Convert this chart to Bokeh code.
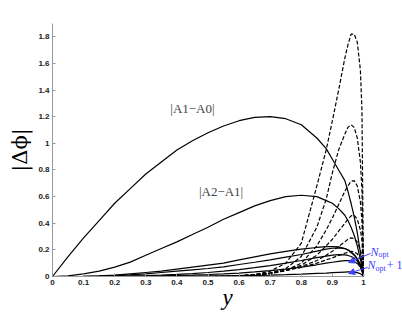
from bokeh.plotting import figure
from bokeh.models import Label, Arrow, NormalHead, Range1d, FixedTicker
from bokeh.embed import file_html
from bokeh.resources import INLINE

# common sample positions along y (x-axis)
X = [0, .05, .1, .15, .2, .25, .3, .35, .4, .45, .5, .55, .6, .65, .7, .75, .8,
     .85, .88, .9, .92, .94, .95, .96, .97, .98, .99, .995, 1.0]

# solid curves (terms before truncation)
A1_A0 = [0, .15, .29, .42, .55, .66, .77, .86, .95, 1.02, 1.08, 1.13, 1.17, 1.195, 1.2,
         1.185, 1.14, 1.04, .96, .88, .8, .72, .64, .55, .45, .33, .18, .1, 0]
A2_A1 = [0, .005, .02, .04, .07, .108, .16, .21, .26, .315, .37, .43, .48, .53, .57,
         .6, .61, .6, .57, .55, .51, .46, .42, .37, .31, .23, .13, .07, 0]
S3 = [0, 0, .002, .005, .01, .02, .03, .04, .055, .07, .085, .1, .125, .148, .17,
      .188, .205, .218, .224, .225, .222, .21, .198, .18, .16, .13, .085, .05, 0]
S4 = [0, 0, .001, .003, .006, .012, .02, .03, .04, .05, .06, .072, .09, .107, .125,
      .145, .165, .19, .205, .212, .215, .21, .2, .185, .165, .135, .09, .055, 0]
S5 = [0, 0, 0, .001, .002, .004, .007, .011, .016, .022, .03, .04, .052, .066, .082,
      .1, .12, .142, .153, .16, .165, .163, .158, .15, .138, .115, .08, .05, 0]
N_OPT = [0, 0, 0, 0, .001, .002, .003, .005, .008, .011, .015, .02, .026, .034, .044,
         .056, .07, .088, .1, .107, .114, .119, .12, .118, .112, .098, .07, .045, 0]
N_OPT1 = [0, 0, 0, 0, 0, 0, .001, .001, .002, .003, .004, .005, .007, .009, .011,
          .014, .018, .023, .026, .029, .031, .033, .034, .034, .033, .029, .021, .013, 0]

# dashed curves (terms after truncation)
D1 = [0, 0, 0, 0, 0, 0, 0, 0, 0, 0, 0, 0, .005, .015, .04, .1, .25, .68, .95, 1.17,
      1.4, 1.64, 1.74, 1.82, 1.82, 1.76, 1.55, 1.25, 0]
D2 = [0, 0, 0, 0, 0, 0, 0, 0, 0, 0, 0, 0, .003, .01, .025, .06, .15, .37, .58, .78,
      .95, 1.07, 1.12, 1.14, 1.12, 1.04, .86, .65, 0]
D3 = [0, 0, 0, 0, 0, 0, 0, 0, 0, 0, 0, 0, .002, .008, .02, .045, .1, .23, .35, .44,
      .54, .64, .68, .715, .72, .68, .56, .42, 0]
D4 = [0, 0, 0, 0, 0, 0, 0, 0, 0, 0, 0, 0, .003, .01, .022, .045, .085, .16, .23, .28,
      .34, .4, .43, .455, .46, .43, .35, .27, 0]
D5 = [0, 0, 0, 0, 0, 0, 0, 0, 0, 0, 0, .002, .005, .012, .025, .045, .075, .12, .16,
      .19, .225, .26, .28, .29, .285, .26, .2, .15, 0]
D6 = [0, 0, 0, 0, 0, 0, 0, 0, 0, 0, 0, .003, .007, .015, .028, .045, .068, .1, .125,
      .14, .158, .175, .183, .188, .185, .17, .13, .1, 0]

SOLID = [A1_A0, A2_A1, S3, S4, S5, N_OPT, N_OPT1]
DASHED = [D1, D2, D3, D4, D5, D6]

X_TICKS = [0, .1, .2, .3, .4, .5, .6, .7, .8, .9, 1]
X_TICK_LABELS = ["0", "0.1", "0.2", "0.3", "0.4", "0.5", "0.6", "0.7", "0.8", "0.9", "1"]
Y_TICKS = [0, .2, .4, .6, .8, 1, 1.2, 1.4, 1.6, 1.8]
Y_TICK_LABELS = ["0", "0.2", "0.4", "0.6", "0.8", "1", "1.2", "1.4", "1.6", "1.8"]

BLUE = "#4040ff"
SERIF = "Liberation Serif"

p = figure(width=402, height=316, output_backend="svg", toolbar_location=None,
           x_range=Range1d(0, 1.1254), y_range=Range1d(0, 1.9),
           min_border_left=52, min_border_right=0, min_border_top=23,
           min_border_bottom=40)
p.grid.visible = False
p.outline_line_color = None
p.background_fill_color = "white"

p.xaxis.ticker = FixedTicker(ticks=X_TICKS)
p.yaxis.ticker = FixedTicker(ticks=Y_TICKS)
p.xaxis.major_label_overrides = {t: l for t, l in zip(X_TICKS, X_TICK_LABELS)}
p.yaxis.major_label_overrides = {t: l for t, l in zip(Y_TICKS, Y_TICK_LABELS)}
p.xaxis.bounds = (0, 1)
p.yaxis.bounds = (0, 1.9)
for ax in (p.xaxis, p.yaxis):
    ax.axis_line_color = "#999999"
    ax.major_tick_line_color = "#999999"
    ax.major_tick_in = 3
    ax.major_tick_out = 0
    ax.minor_tick_line_color = None
    ax.major_label_text_font = "Liberation Sans"
    ax.major_label_text_font_style = "bold"
    ax.major_label_text_font_size = "8px"
    ax.major_label_text_color = "#222222"
    ax.major_label_standoff = 3
    ax.axis_label_text_color = "black"

p.xaxis.axis_label = "y"
p.xaxis.axis_label_text_font = SERIF
p.xaxis.axis_label_text_font_style = "italic"
p.xaxis.axis_label_text_font_size = "23px"
p.xaxis.axis_label_standoff = -3

p.yaxis.axis_label = "|\u0394\u03d5|"
p.yaxis.axis_label_text_font = "DejaVu Serif"
p.yaxis.axis_label_text_font_style = "normal"
p.yaxis.axis_label_text_font_size = "21px"
p.yaxis.axis_label_standoff = 3

for ys in SOLID:
    p.line(X, ys, line_color="black", line_width=1.2)
for ys in DASHED:
    p.line(X, ys, line_color="black", line_width=1.2, line_dash="4 2")

p.add_layout(Label(x=0.45, y=1.265, text="|A1\u2212A0|", text_font=SERIF,
                   text_font_size="13px", text_align="center", text_baseline="middle"))
p.add_layout(Label(x=0.542, y=0.635, text="|A2\u2212A1|", text_font=SERIF,
                   text_font_size="13px", text_align="center", text_baseline="middle"))

# blue annotations
p.add_layout(Arrow(x_start=1.0225, y_start=0.173, x_end=0.952, y_end=0.105,
                   line_color=BLUE, line_width=1,
                   end=NormalHead(size=6, fill_color=BLUE, line_color=BLUE)))
p.add_layout(Arrow(x_start=1.013, y_start=0.068, x_end=0.952, y_end=0.023,
                   line_color=BLUE, line_width=1,
                   end=NormalHead(size=6, fill_color=BLUE, line_color=BLUE)))
p.add_layout(Label(x=1.035, y=0.184, text="N", text_font=SERIF, text_font_style="italic",
                   text_font_size="12px", text_color=BLUE, text_align="center",
                   text_baseline="middle"))
p.add_layout(Label(x=1.048, y=0.162, text="opt", text_font=SERIF,
                   text_font_size="8px", text_color=BLUE, text_align="left",
                   text_baseline="middle"))
p.add_layout(Label(x=1.026, y=0.083, text="N", text_font=SERIF, text_font_style="italic",
                   text_font_size="12px", text_color=BLUE, text_align="center",
                   text_baseline="middle"))
p.add_layout(Label(x=1.0386, y=0.06, text="opt", text_font=SERIF,
                   text_font_size="8px", text_color=BLUE, text_align="left",
                   text_baseline="middle"))
p.add_layout(Label(x=1.1, y=0.083, text="+ 1", text_font=SERIF,
                   text_font_size="12px", text_color=BLUE, text_align="center",
                   text_baseline="middle"))

open("out.html", "w").write(file_html(p, INLINE))
